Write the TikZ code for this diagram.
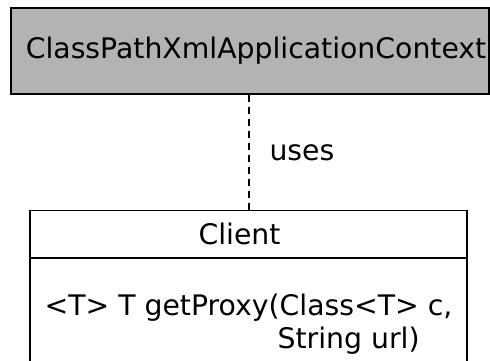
\documentclass[tikz,border=0pt]{standalone}
\usepackage{fontspec}
\setmainfont{DejaVu Sans}
\usetikzlibrary{positioning}
\definecolor{ctxgray}{HTML}{B3B3B3}
\newcommand{\umlfont}{\fontsize{28.3}{33}\selectfont}
\tikzset{
  umlbox/.style={draw=black, line width=1.2pt, inner sep=0pt, font=\umlfont},
  ctxbox/.style={umlbox, fill=ctxgray},
  classhead/.style={umlbox, fill=white},
  classbody/.style={umlbox, fill=white, align=left},
  depends/.style={draw=black, line width=2pt, dash pattern=on 7pt off 5pt},
  lbl/.style={font=\umlfont, inner sep=0pt},
}
\begin{document}
\begin{tikzpicture}[x=1pt, y=1pt]
  \useasboundingbox (0,0) rectangle (490,-360);
  \clip (0,0) rectangle (490,-360);

  \node[ctxbox, minimum width=478pt, minimum height=86pt] (context) at (250,-51)
    {\hspace*{12pt}ClassPathXmlApplicationContext};

  \node[classhead, minimum width=437pt, minimum height=47pt, anchor=north] (client)
    at (248.5,-210) {Client\hspace*{18pt}};
  \node[classbody, minimum width=437pt, minimum height=130pt, anchor=north] (clientops)
    at (client.south) {<T> T getProxy(Class<T> c,\\\hspace*{233pt}String url)};

  \draw[depends] (context.south -| client.north) -- (client.north)
    node[lbl, midway, right=20pt] {uses};
\end{tikzpicture}
\end{document}
